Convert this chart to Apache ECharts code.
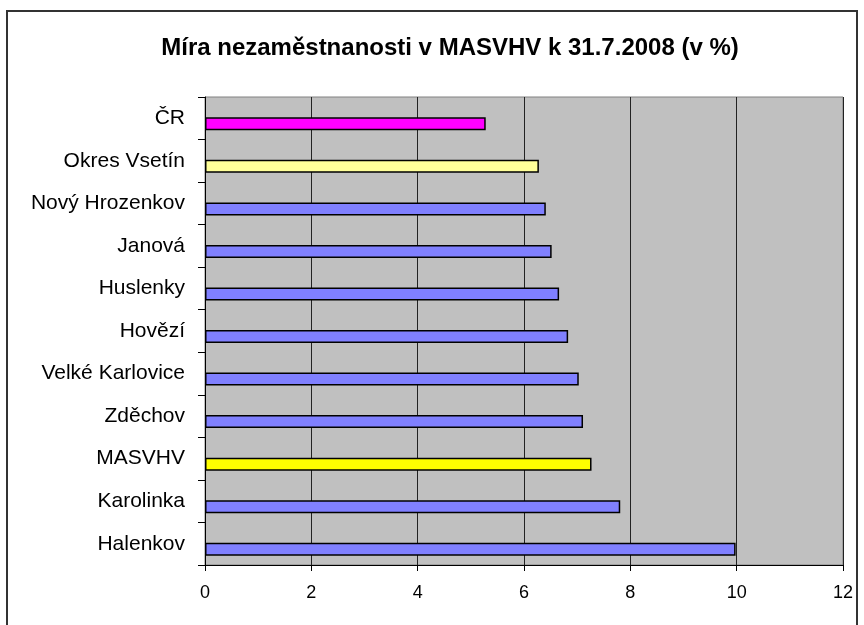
<!DOCTYPE html>
<html>
<head>
<meta charset="utf-8">
<script src="https://cdn.jsdelivr.net/npm/echarts@6/dist/echarts.min.js"></script>
<style>
html,body{margin:0;padding:0;background:#fff;}
#chart{width:864px;height:625px;}
</style>
</head>
<body>
<div id="chart"></div>
<script>
var titleText = 'Míra nezaměstnanosti v MASVHV k 31.7.2008 (v %)';
// bottom-to-top order
var categories = ['Halenkov', 'Karolinka', 'MASVHV', 'Zděchov', 'Velké Karlovice', 'Hovězí', 'Huslenky', 'Janová', 'Nový Hrozenkov', 'Okres Vsetín', 'ČR'];
var values = [9.98, 7.81, 7.27, 7.11, 7.03, 6.83, 6.66, 6.52, 6.41, 6.28, 5.28];
var barColors = ['#8080FF', '#8080FF', '#FFFF00', '#8080FF', '#8080FF', '#8080FF', '#8080FF', '#8080FF', '#8080FF', '#FFFF99', '#FF00FF'];
var xTicks = [0, 2, 4, 6, 8, 10, 12];

var chart = echarts.init(document.getElementById('chart'), null, {renderer: 'canvas'});
var FONT = 'Liberation Sans, Arial, sans-serif';

var seriesData = values.map(function (v, i) {
  return {value: v, itemStyle: {color: barColors[i]}};
});
var dummy = values.map(function () { return null; });

chart.setOption({
  backgroundColor: '#fff',
  animation: false,
  title: {
    text: titleText,
    left: 445,
    textAlign: 'center',
    top: 31,
    textStyle: {fontFamily: FONT, fontWeight: 'bold', fontSize: 24, color: '#000'}
  },
  graphic: [{
    type: 'rect',
    shape: {x: 7, y: 11, width: 850, height: 640},
    style: {fill: 'none', stroke: '#333', lineWidth: 2},
    silent: true
  }],
  grid: {
    left: 205, right: 21, top: 97, bottom: 60,
    show: true, backgroundColor: '#C0C0C0', borderColor: '#808080', borderWidth: 1
  },
  xAxis: {
    type: 'value', min: 0, max: 12, interval: 2,
    axisLine: {show: true, lineStyle: {color: '#000', width: 1}},
    axisTick: {show: true, length: 6, lineStyle: {color: '#000'}},
    axisLabel: {fontFamily: FONT, fontSize: 18, color: '#000', margin: 19,
      formatter: function (v) { return xTicks.indexOf(v) >= 0 ? String(v) : ''; }},
    splitLine: {show: true, lineStyle: {color: '#222', width: 1}}
  },
  yAxis: {
    type: 'category', data: categories,
    axisLine: {show: true, lineStyle: {color: '#000', width: 1}},
    axisTick: {show: true, length: 7, alignWithLabel: false, lineStyle: {color: '#000'}},
    axisLabel: {fontFamily: FONT, fontSize: 21, color: '#000', margin: 20},
    splitLine: {show: false}
  },
  series: [{
    type: 'bar', data: dummy, barWidth: 13, barGap: '-15%', silent: true
  }, {
    type: 'bar', data: seriesData, barWidth: 13, barGap: '-15%',
    itemStyle: {borderColor: '#000', borderWidth: 1.5}
  }]
});
</script>
</body>
</html>
